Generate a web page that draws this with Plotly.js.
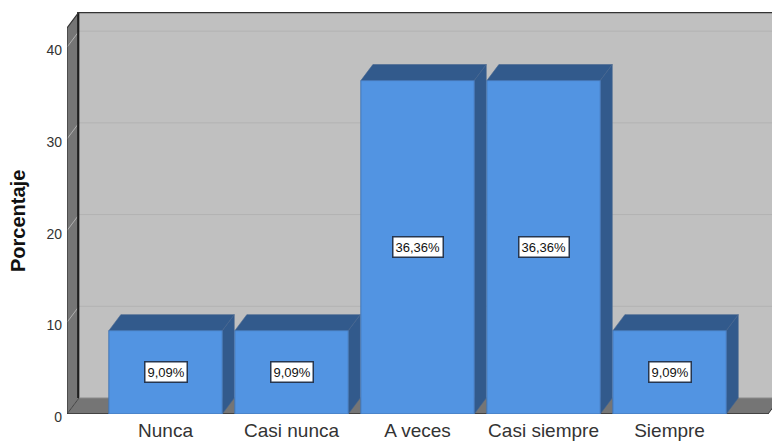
<!DOCTYPE html>
<html>
<head>
<meta charset="utf-8">
<script src="https://cdn.plot.ly/plotly-3.0.1.min.js"></script>
<style>html,body{margin:0;padding:0;background:#fff;overflow:hidden}</style>
</head>
<body>
<div id="chart" style="width:772px;height:442px"></div>
<script>
var categories = ["Nunca", "Casi nunca", "A veces", "Casi siempre", "Siempre"];
var porcentaje = [9.09, 9.09, 36.36, 36.36, 9.09];
var yTicks = [0, 10, 20, 30, 40];
var yTitle = "Porcentaje";

var depthX = 12 / 126, depthY = 16 / 9.17, barW = 0.9;
var xLo = -0.782, xHi = 4.813, yHi = 402 / 9.17;
var wallTop = yHi - depthY, floorEndX = xHi - 4 / 126;

function poly(pts, fill, line, w) {
  var p = pts.map(function (q, i) { return (i ? 'L' : 'M') + q[0] + ',' + q[1]; }).join(' ') + ' Z';
  return {type: 'path', path: p, xref: 'x', yref: 'y', layer: 'below',
          fillcolor: fill, line: {color: line || fill, width: w === undefined ? 0 : w}};
}
function seg(x0, y0, x1, y1, c, w) {
  return {type: 'line', x0: x0, y0: y0, x1: x1, y1: y1, xref: 'x', yref: 'y', layer: 'below', line: {color: c, width: w}};
}

var shapes = [];
var backL = xLo + depthX;
shapes.push(poly([[backL, depthY], [xHi + 1, depthY], [xHi + 1, yHi], [backL, yHi]], '#c0c0c0'));
shapes.push(poly([[xLo, 0], [xLo, wallTop], [backL, yHi], [backL, depthY]], '#757575'));
shapes.push(poly([[xLo, 0], [floorEndX, 0], [floorEndX + depthX, depthY], [backL, depthY]], '#757575'));
yTicks.slice(1).forEach(function (t) {
  shapes.push(seg(backL, t + depthY, xHi + 1, t + depthY, '#b2b2b2', 1));
  shapes.push(seg(xLo, t, backL, t + depthY, '#b0b0b0', 1));
});
shapes.push(seg(backL - 0.006, depthY, backL - 0.006, yHi, '#1e1e1e', 2.2));
shapes.push(seg(backL, yHi - 0.03, xHi + 1, yHi - 0.03, '#333333', 2));
shapes.push(seg(xLo, wallTop, backL, yHi, '#333333', 1.2));
shapes.push(seg(xLo, 0, xLo, wallTop, '#333333', 1.2));
shapes.push(seg(backL, depthY, xHi + 1, depthY, '#8a8a8a', 1));
shapes.push(seg(xLo, 0, backL, depthY, '#444444', 1));
shapes.push(seg(floorEndX, 0, floorEndX + depthX, depthY, '#333333', 1));
shapes.push(seg(xLo, 0, floorEndX, 0, '#333333', 1.5));
porcentaje.forEach(function (v, i) {
  var l = i - barW / 2, r = i + barW / 2;
  shapes.push(poly([[l, v], [r, v], [r + depthX, v + depthY], [l + depthX, v + depthY]], '#325a8c', '#44658f', 0.6));
  shapes.push(poly([[r, 0], [r + depthX, depthY], [r + depthX, v + depthY], [r, v]], '#325a8c', '#44658f', 0.6));
});

var annotations = porcentaje.map(function (v, i) {
  return {x: i, y: v / 2, xref: 'x', yref: 'y', showarrow: false,
          text: v.toFixed(2).replace('.', ',') + '%',
          font: {family: 'Liberation Sans, Arial, sans-serif', size: 13, color: '#111'},
          bgcolor: '#ffffff', bordercolor: '#26364f', borderwidth: 1.5, borderpad: 2};
});
annotations.push({xref: 'paper', yref: 'paper', x: -0.0695, y: 0.4801, xanchor: 'center', yanchor: 'middle',
  showarrow: false, textangle: -90, text: '<b>' + yTitle + '</b>',
  font: {family: 'Liberation Sans, Arial, sans-serif', size: 20, color: '#111'}});

Plotly.newPlot('chart', [{
  type: 'bar', x: categories, y: porcentaje, width: barW,
  marker: {color: '#5294e2', line: {color: '#4476b5', width: 1}}, hoverinfo: 'skip'
}], {
  width: 772, height: 442, showlegend: false,
  margin: {l: 67, r: 0, t: 12, b: 28, pad: 0},
  paper_bgcolor: '#ffffff', plot_bgcolor: 'rgba(0,0,0,0)',
  xaxis: {type: 'category', categoryorder: 'array', categoryarray: categories, range: [xLo, xHi],
          showgrid: false, zeroline: false, showline: false, ticks: '', ticklabelstandoff: 3, automargin: false,
          tickfont: {family: 'Liberation Sans, Arial, sans-serif', size: 19, color: '#333'}},
  yaxis: {range: [0, yHi], tickvals: yTicks, ticktext: yTicks.map(String), showgrid: false, zeroline: false,
          showline: false, ticks: '', ticklabelstandoff: 4, ticklabelshift: 3, automargin: false,
          tickfont: {family: 'Liberation Sans, Arial, sans-serif', size: 14, color: '#333'}},
  shapes: shapes, annotations: annotations, bargap: 0.1
}, {displayModeBar: false, staticPlot: true});
</script>
</body>
</html>
